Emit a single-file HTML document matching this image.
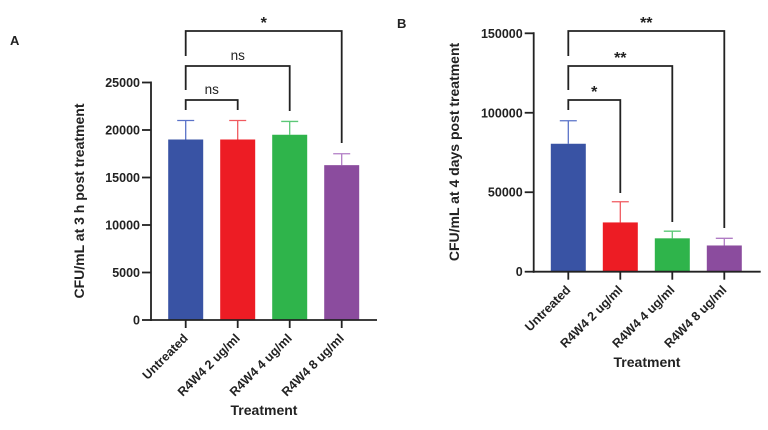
<!DOCTYPE html>
<html><head><meta charset="utf-8"><style>
body{margin:0;background:#fff}
svg{display:block;font-family:"Liberation Sans",Arial,sans-serif}
</style></head><body>
<svg id="c" width="768" height="430" viewBox="0 0 768 430"></svg>
<script>
const categories=["Untreated","R4W4 2 ug/ml","R4W4 4 ug/ml","R4W4 8 ug/ml"];
const valuesA=[19000,19000,19500,16300];
const errorsA=[21000,21000,20900,17500];
const ticksA=[0,5000,10000,15000,20000,25000];
const valuesB=[80500,31000,21000,16500];
const errorsB=[95000,44000,25500,21000];
const ticksB=[0,50000,100000,150000];
const colors=["#3953a4","#ed1c24","#2fb44b","#8b4c9e"];
const errColors=["#5a72c8","#f05a5f","#5cc877","#b07cc4"];
const NS="http://www.w3.org/2000/svg";
const svg=document.getElementById('c');
function mk(tag,attrs,parent,text){const e=document.createElementNS(NS,tag);for(const k in attrs)e.setAttribute(k,attrs[k]);if(text!==undefined)e.textContent=text;(parent||svg).appendChild(e);return e;}
function panel(cfg){
  const g=mk('g',{});
  
  
  const y=v=>cfg.y0-(v/cfg.max)*(cfg.y0-cfg.yTop);
  const x=i=>cfg.x0+cfg.firstOff+i*52;
  cfg.values.forEach((v,i)=>{
    const e=cfg.errors[i];
    const el=mk('line',{x1:x(i),x2:x(i),y1:y(e),y2:y(v),stroke:errColors[i],'stroke-width':1.3},g);
    
    
    const cap=mk('line',{x1:x(i)-8.5,x2:x(i)+8.5,y1:y(e),y2:y(e),stroke:errColors[i],'stroke-width':1.3},g);
    
    
    const r=mk('rect',{x:x(i)-17.5,y:y(v),width:35,height:cfg.y0-y(v),fill:colors[i]},g);
    
    
  });
  const ya=mk('line',{x1:cfg.x0,x2:cfg.x0,y1:y(cfg.max)-1,y2:cfg.y0+1,stroke:'#222','stroke-width':1.8},g);
  
  
  const xa=mk('line',{x1:cfg.x0-1,x2:cfg.xEnd,y1:cfg.y0,y2:cfg.y0,stroke:'#222','stroke-width':1.8},g);
  
  
  cfg.ticks.forEach(t=>{
    mk('line',{x1:cfg.x0-9,x2:cfg.x0,y1:y(t),y2:y(t),stroke:'#222','stroke-width':1.8},g);
    const tl=mk('text',{x:cfg.x0-11,y:y(t)+4.5,'text-anchor':'end','font-size':12.5,'font-weight':'bold',fill:'#222'},g,String(t));
    
    
  });
  categories.forEach((c,i)=>{
    mk('line',{x1:x(i),x2:x(i),y1:cfg.y0,y2:cfg.y0+8,stroke:'#222','stroke-width':1.8},g);
    const tl=mk('text',{x:0,y:0,'text-anchor':'end','font-size':12.5,'font-weight':'bold',fill:'#222',transform:`translate(${x(i)+3},${cfg.y0+19}) rotate(-45)`},g,c);
    
    
  });
  const yt=mk('text',{x:0,y:0,'text-anchor':'middle','font-size':14,'font-weight':'bold',fill:'#222',transform:`translate(${cfg.ytX},${cfg.ytY}) rotate(-90)`},g,cfg.ytitle);
  
  
  const xt=mk('text',{x:cfg.xtX,y:cfg.xtY,'text-anchor':'middle','font-size':14,'font-weight':'bold',fill:'#222'},g,'Treatment');
  
  
  const pl=mk('text',{x:cfg.lx,y:cfg.ly,'font-size':13,'font-weight':'bold',fill:'#222'},g,cfg.letter);
  
  
  cfg.brackets.forEach(b=>{
    const p=mk('polyline',{points:`${x(0)},${b[1]} ${x(0)},${b[0]} ${x(b[3])},${b[0]} ${x(b[3])},${b[2]}`,fill:'none',stroke:'#222','stroke-width':1.8},g);
    
    
    const t=mk('text',{x:(x(0)+x(b[3]))/2,y:b[0]-(b[4]=='ns'?6:3),'text-anchor':'middle','font-size':b[4]=='ns'?13.5:16,'font-weight':b[4]=='ns'?'normal':'bold',fill:'#222'},g,b[4]);
    
    
  });
}
panel({name:'panel-a',letter:'A',lx:10,ly:45,values:valuesA,errors:errorsA,ticks:ticksA,max:25000,y0:320,yTop:82.5,x0:151,xEnd:377,firstOff:34.7,
  ytitle:'CFU/mL at 3 h post treatment',ytX:84,ytY:201,xtX:264,xtY:415,
  brackets:[[100,110,110,1,'ns'],[66,90,111,2,'ns'],[31,56,143,3,'*']]});
panel({name:'panel-b',letter:'B',lx:397,ly:28,values:valuesB,errors:errorsB,ticks:ticksB,max:150000,y0:271.7,yTop:33.3,x0:533.7,xEnd:760.7,firstOff:34.6,
  ytitle:'CFU/mL at 4 days post treatment',ytX:459,ytY:152,xtX:647,xtY:367,
  brackets:[[100,110,193,1,'*'],[66,90,222,2,'**'],[31,56,228,3,'**']]});
</script>
</body></html>
